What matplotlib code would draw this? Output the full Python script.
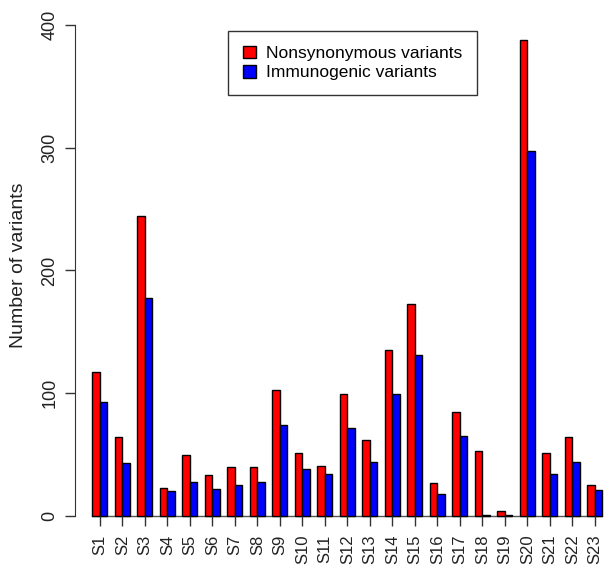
import numpy as np
import matplotlib.pyplot as plt
from matplotlib.patches import Patch

plt.rcParams['font.family'] = ['Liberation Sans', 'DejaVu Sans']

samples = ['S%d' % i for i in range(1, 24)]
nonsyn = [117, 64, 244, 23, 50, 33, 40, 40, 103, 51, 41, 99, 62, 135, 173, 27, 85, 53, 4, 388, 51, 64, 25]
immuno = [93, 43, 178, 20, 28, 22, 25, 28, 74, 38, 34, 72, 44, 99, 131, 18, 65, 1, 1, 297, 34, 44, 21]

fig = plt.figure(figsize=(6.04, 5.65), dpi=100)
# axes placed in pixels to mimic the R barplot region (right side is cropped)
ax = fig.add_axes([75 / 604, 49 / 565, 1 - 75 / 604, 495.3 / 565])

# R barplot beside=TRUE: bar width 1, one unit gap between groups
idx = np.arange(len(samples))
red_left = 1 + 3 * idx
blue_left = 2 + 3 * idx
ax.bar(red_left, nonsyn, width=1, align='edge', color='#ff0000', edgecolor='black', linewidth=1, clip_on=False)
ax.bar(blue_left, immuno, width=1, align='edge', color='#0000ff', edgecolor='black', linewidth=1, clip_on=False)
ax.plot([1, 3 * len(samples)], [0, 0], color='#555555', lw=1, zorder=0, clip_on=False)

ax.set_xlim(-1.33, 69.2)
ax.set_ylim(0, 403.5)

ax.set_xticks(2 + 3 * idx)
ax.set_xticklabels(samples, rotation=90, fontsize=12, color='#222222')
ax.set_yticks([0, 100, 200, 300, 400])
ax.set_yticklabels(['0', '100', '200', '300', '400'], rotation=90, va='center', fontsize=13, color='#222222')
ax.tick_params(axis='both', length=7, width=1, color='#333333')
ax.tick_params(axis='x', pad=6.5)
ax.tick_params(axis='y', pad=5)

for s in ['top', 'right', 'bottom']:
    ax.spines[s].set_visible(False)
ax.spines['left'].set_bounds(0, 400)
ax.spines['left'].set_color('#333333')

ax.set_ylabel('Number of variants', fontsize=14, color='#222222')
ax.yaxis.set_label_coords(-0.09, 0.507)

handles = [Patch(facecolor='#ff0000', edgecolor='black', label='Nonsynonymous variants'),
           Patch(facecolor='#0000ff', edgecolor='black', label='Immunogenic variants')]
leg = fig.legend(handles=handles, loc='upper left', bbox_to_anchor=(228 / 604, 1 - 31 / 565),
                 bbox_transform=fig.transFigure, fontsize=12.5, frameon=True, fancybox=False,
                 edgecolor='black', handlelength=0.75, handleheight=0.75, handletextpad=0.6,
                 labelspacing=0.22, borderpad=0.85, borderaxespad=0)
leg.get_frame().set_linewidth(1)

fig.savefig('out.png', dpi=100)
